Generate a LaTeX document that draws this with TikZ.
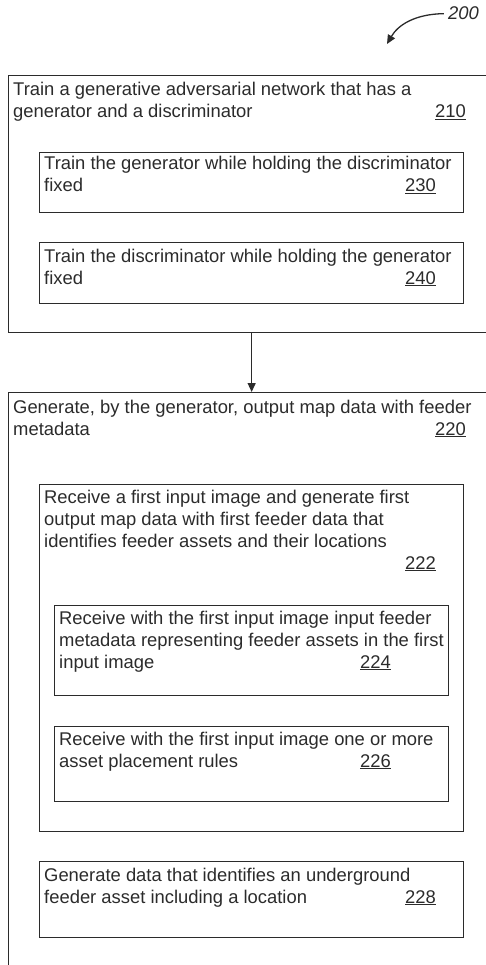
\documentclass[tikz,border=0pt]{standalone}
\usepackage{fontspec}
\setmainfont{Liberation Sans}
\usetikzlibrary{arrows.meta}
\definecolor{ink}{HTML}{2B2B2B}
\begin{document}
\begin{tikzpicture}[x=1pt, y=-1pt,
    box/.style={draw=ink, line width=1.3pt, rectangle, inner sep=0pt, anchor=north west},
    txt/.style={anchor=base west, inner sep=0pt, align=left, text=ink,
                font=\fontsize{18.4}{22}\selectfont},
    num/.style={anchor=base east, inner sep=0pt, text=ink,
                font=\fontsize{18.4}{22}\selectfont},
    flow/.style={draw=ink, line width=1.3pt, -{Triangle[length=9pt, width=8pt]}}
]
\clip (0,0) rectangle (486,965);

% Reference label
\node[anchor=base east, inner sep=0pt, text=ink, font=\fontsize{18.4}{22}\selectfont\itshape] (lbl) at (479,20) {200};
\coordinate (tip) at (387,44);
\draw[flow] (lbl.west) ++(-4pt,0) .. controls (415,14) and (398,25) .. (tip);

% Outer boxes (text nodes sit on the baseline of their last line)
\node[box, minimum width=492pt, minimum height=257pt] (b210) at (8,75) {};
\node[txt] (t210) at (13,118) {Train a generative adversarial network that has a\\generator and a discriminator};
\node[num] (n210) at (466,118) {\underline{210}};

\node[box, minimum width=424pt, minimum height=60pt] (b230) at (39,152) {};
\node[txt] (t230) at (44,192) {Train the generator while holding the discriminator\\fixed};
\node[num] (n230) at (436,192) {\underline{230}};

\node[box, minimum width=424pt, minimum height=61pt] (b240) at (39,242) {};
\node[txt] (t240) at (44,284) {Train the discriminator while holding the generator\\fixed};
\node[num] (n240) at (436,284) {\underline{240}};

\node[box, minimum width=492pt, minimum height=608pt] (b220) at (8,392) {};
\draw[flow] ([xshift=-3pt]b210.south) -- ([xshift=-3pt]b220.north);
\node[txt] (t220) at (13,435) {Generate, by the generator, output map data with feeder\\metadata};
\node[num] (n220) at (466,435) {\underline{220}};

\node[box, minimum width=424pt, minimum height=347pt] (b222) at (39,484) {};
\node[txt] (t222) at (44,547) {Receive a first input image and generate first\\output map data with first feeder data that\\identifies feeder assets and their locations};
\node[num] (n222) at (436,569) {\underline{222}};

\node[box, minimum width=394pt, minimum height=90pt] (b224) at (54,605) {};
\node[txt] (t224) at (59,668) {Receive with the first input image input feeder\\metadata representing feeder assets in the first\\input image};
\node[num] (n224) at (391,668) {\underline{224}};

\node[box, minimum width=394pt, minimum height=75pt] (b226) at (54,726) {};
\node[txt] (t226) at (59,767) {Receive with the first input image one or more\\asset placement rules};
\node[num] (n226) at (391,767) {\underline{226}};

\node[box, minimum width=424pt, minimum height=76pt] (b228) at (39,861) {};
\node[txt] (t228) at (44,903) {Generate data that identifies an underground\\feeder asset including a location};
\node[num] (n228) at (436,903) {\underline{228}};
\end{tikzpicture}
\end{document}
